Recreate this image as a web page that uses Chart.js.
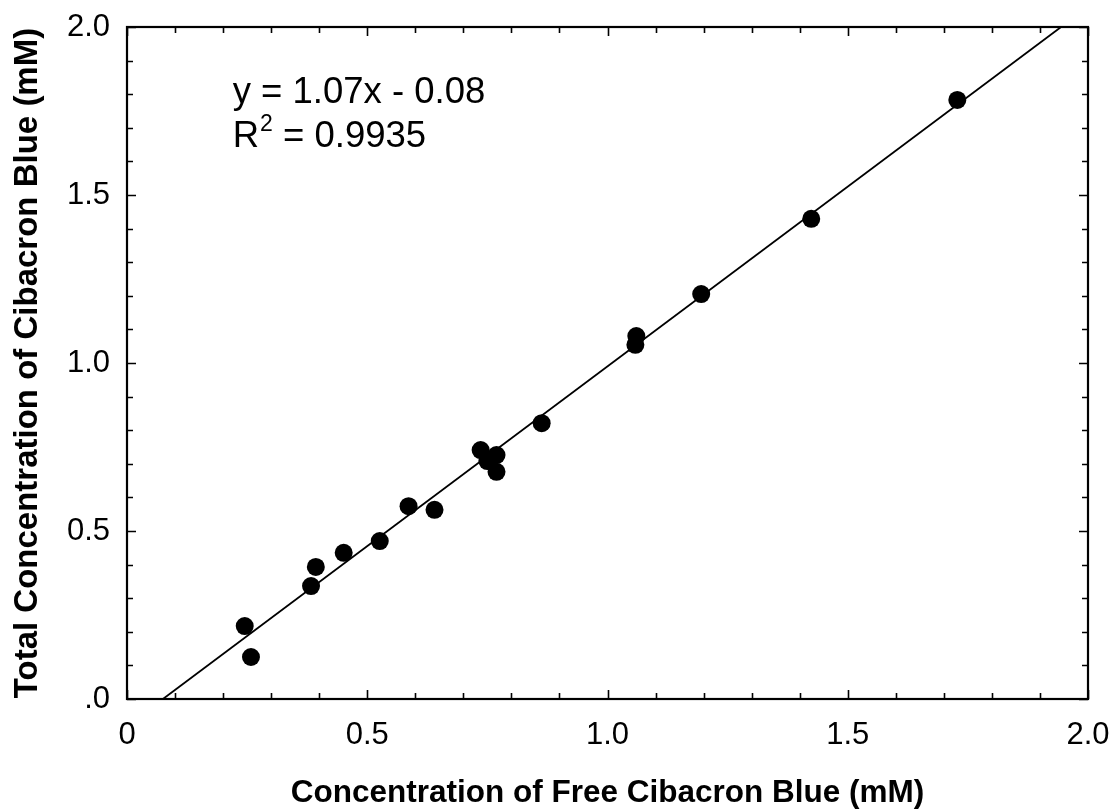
<!DOCTYPE html>
<html>
<head>
<meta charset="utf-8">
<title>Cibacron Blue binding</title>
<script src="https://cdn.jsdelivr.net/npm/chart.js@4.4.1/dist/chart.umd.min.js"></script>
<style>
  html, body { margin: 0; padding: 0; background: #ffffff; }
  #wrap { width: 1113px; height: 809px; }
</style>
</head>
<body>
<div id="wrap"><canvas id="chart" width="1113" height="809"></canvas></div>
<script>
// Measured concentrations (mM)
const freeConc  = [0.245, 0.258, 0.383, 0.393, 0.451, 0.526, 0.586, 0.640, 0.736,
                   0.750, 0.769, 0.769, 0.863, 1.058, 1.060, 1.195, 1.424, 1.728];
const totalConc = [0.217, 0.125, 0.336, 0.393, 0.435, 0.470, 0.574, 0.563, 0.741,
                   0.708, 0.726, 0.676, 0.821, 1.054, 1.080, 1.205, 1.429, 1.783];

// Linear regression reported on the chart
const fitSlope = 1.07;
const fitIntercept = -0.08;
const fitR2 = '0.9935';

// Axis ticks
const xTickValues = [0, 0.5, 1.0, 1.5, 2.0];
const xTickLabels = ['0', '0.5', '1.0', '1.5', '2.0'];
const yTickValues = [0, 0.5, 1.0, 1.5, 2.0];
const yTickLabels = ['.0', '0.5', '1.0', '1.5', '2.0'];
const axisMin = 0, axisMax = 2.0, minorStep = 0.1;

const FONT = '"Liberation Sans", Arial, Helvetica, sans-serif';

// Fit line clipped to the plotting window
const fitLine = [];
(function () {
  const xAtMin = (axisMin - fitIntercept) / fitSlope;
  const xAtMax = (axisMax - fitIntercept) / fitSlope;
  fitLine.push({ x: Math.max(axisMin, xAtMin), y: fitSlope * Math.max(axisMin, xAtMin) + fitIntercept });
  fitLine.push({ x: Math.min(axisMax, xAtMax), y: fitSlope * Math.min(axisMax, xAtMax) + fitIntercept });
})();

const points = freeConc.map((x, i) => ({ x: x, y: totalConc[i] }));

// Frame with inward tick marks on all four sides
const frameTicks = {
  id: 'frameTicks',
  afterDatasetsDraw(chart) {
    const { ctx, chartArea: a, scales: { x, y } } = chart;
    ctx.save();
    ctx.strokeStyle = '#000';
    ctx.lineWidth = 1.6;
    const n = Math.round((axisMax - axisMin) / minorStep);
    for (let i = 0; i <= n; i++) {
      const v = axisMin + i * minorStep;
      const len = (i % 5 === 0) ? 9 : 6;
      const px = Math.round(x.getPixelForValue(v)) + 0.5;
      const py = Math.round(y.getPixelForValue(v)) + 0.5;
      ctx.beginPath();
      ctx.moveTo(px, a.bottom); ctx.lineTo(px, a.bottom - len);
      ctx.moveTo(px, a.top);    ctx.lineTo(px, a.top + len);
      ctx.moveTo(a.left, py);   ctx.lineTo(a.left + len, py);
      ctx.moveTo(a.right, py);  ctx.lineTo(a.right - len, py);
      ctx.stroke();
    }
    ctx.lineWidth = 2.2;
    ctx.strokeRect(a.left, a.top, a.right - a.left, a.bottom - a.top);
    ctx.restore();
  }
};

// Regression equation text
const equationLabel = {
  id: 'equationLabel',
  afterDraw(chart) {
    const { ctx, scales: { x, y } } = chart;
    const left = x.getPixelForValue(0.22);
    const base1 = y.getPixelForValue(1.774);
    const base2 = y.getPixelForValue(1.643);
    ctx.save();
    ctx.fillStyle = '#000';
    ctx.textBaseline = 'alphabetic';
    ctx.textAlign = 'left';
    ctx.font = '36.5px ' + FONT;
    const sign = fitIntercept < 0 ? ' - ' : ' + ';
    ctx.fillText('y = ' + fitSlope.toFixed(2) + 'x' + sign + Math.abs(fitIntercept).toFixed(2), left, base1);
    ctx.fillText('R', left, base2);
    const rW = ctx.measureText('R').width;
    ctx.font = '23px ' + FONT;
    ctx.fillText('2', left + rW + 1, base2 - 16);
    const sW = ctx.measureText('2').width;
    ctx.font = '36.5px ' + FONT;
    ctx.fillText(' = ' + fitR2, left + rW + sW + 1, base2);
    ctx.restore();
  }
};

new Chart(document.getElementById('chart'), {
  type: 'scatter',
  data: {
    datasets: [
      {
        label: 'Data',
        data: points,
        backgroundColor: '#000',
        borderWidth: 0,
        pointRadius: 9,
        pointHoverRadius: 9,
        order: 1
      },
      {
        type: 'line',
        label: 'Fit',
        data: fitLine,
        borderColor: '#000',
        borderWidth: 1.8,
        pointRadius: 0,
        fill: false,
        order: 2
      }
    ]
  },
  options: {
    responsive: false,
    animation: false,
    events: [],
    layout: { padding: { left: 0, top: 27, right: 25, bottom: 0 } },
    plugins: { legend: { display: false }, tooltip: { enabled: false } },
    scales: {
      x: {
        type: 'linear',
        min: axisMin, max: axisMax,
        afterBuildTicks(scale) { scale.ticks = xTickValues.map(v => ({ value: v })); },
        afterFit(scale) {
          scale.height = 110;
          scale.paddingLeft = 0;
          scale.paddingRight = 0;
        },
        grid: { display: false, drawTicks: false },
        border: { display: false },
        ticks: {
          padding: 18,
          color: '#000',
          font: { family: FONT, size: 31 },
          maxRotation: 0,
          autoSkip: false,
          callback: (v) => xTickLabels[xTickValues.indexOf(v)]
        },
        title: {
          display: true,
          text: 'Concentration of Free Cibacron Blue (mM)',
          color: '#000',
          font: { family: FONT, size: 31.5, weight: 'bold', lineHeight: 1 },
          padding: { top: 0, bottom: 0 }
        }
      },
      y: {
        type: 'linear',
        min: axisMin, max: axisMax,
        afterBuildTicks(scale) { scale.ticks = yTickValues.map(v => ({ value: v })); },
        afterFit(scale) {
          scale.width = 127;
          scale.paddingTop = 0;
          scale.paddingBottom = 0;
        },
        grid: { display: false, drawTicks: false },
        border: { display: false },
        ticks: {
          padding: 17,
          color: '#000',
          font: { family: FONT, size: 31 },
          autoSkip: false,
          callback: (v) => yTickLabels[yTickValues.indexOf(v)]
        },
        title: {
          display: true,
          text: 'Total Concentration of Cibacron Blue (mM)',
          color: '#000',
          font: { family: FONT, size: 33, weight: 'bold', lineHeight: 1 },
          padding: { top: 11, bottom: 0 }
        }
      }
    }
  },
  plugins: [frameTicks, equationLabel]
});
</script>
</body>
</html>
